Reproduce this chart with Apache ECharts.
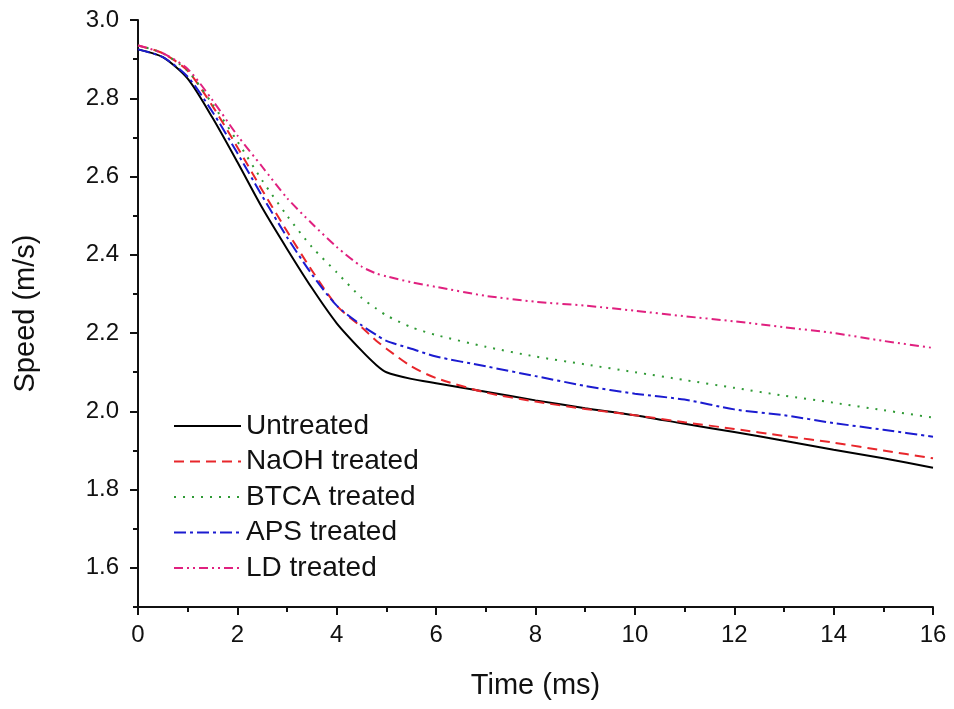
<!DOCTYPE html>
<html>
<head>
<meta charset="utf-8">
<script src="https://cdn.jsdelivr.net/npm/echarts@6/dist/echarts.min.js"></script>
<style>html,body{margin:0;padding:0;background:#fff}#c{width:954px;height:709px}</style>
</head>
<body>
<div id="c"></div>
<script>
const time = [0,0.5,1,1.5,2,2.5,3,3.5,4,4.5,4.8,5,5.5,6,7,8,9,10,11,12,13,14,15,16];
const untreated = [2.925,2.905,2.85,2.75,2.637,2.52,2.415,2.315,2.225,2.155,2.118,2.10,2.083,2.072,2.05,2.028,2.008,1.99,1.968,1.947,1.925,1.902,1.88,1.856];
const naoh = [2.935,2.915,2.87,2.78,2.675,2.565,2.46,2.36,2.27,2.215,2.18,2.16,2.115,2.085,2.048,2.025,2.006,1.99,1.972,1.955,1.937,1.92,1.9,1.88];
const btca = [2.935,2.915,2.87,2.785,2.69,2.59,2.50,2.42,2.355,2.29,2.262,2.245,2.215,2.195,2.165,2.14,2.12,2.10,2.08,2.06,2.04,2.022,2.003,1.984];
const aps = [2.925,2.905,2.855,2.765,2.66,2.55,2.445,2.35,2.27,2.22,2.195,2.18,2.16,2.14,2.115,2.09,2.065,2.045,2.03,2.005,1.99,1.97,1.953,1.935];
const ld = [2.935,2.915,2.875,2.795,2.705,2.625,2.545,2.48,2.42,2.37,2.352,2.345,2.33,2.318,2.295,2.28,2.27,2.257,2.243,2.23,2.215,2.2,2.18,2.162];
const seriesNames = ['Untreated','NaOH treated','BTCA treated','APS treated','LD treated'];
const yTicks = [1.6,1.8,2.0,2.2,2.4,2.6,2.8,3.0];

const pair = arr => arr.map((v,i)=>[time[i],v]);
const styles = [
  {color:'#000000', type:'solid'},
  {color:'#e8262b', type:[10,6]},
  {color:'#2f9a35', type:[2,7]},
  {color:'#1b1bd0', type:[12,4,3,4]},
  {color:'#e0207f', type:[9,4,2,4,2,4]}
];
const allData = [untreated,naoh,btca,aps,ld];
const FONT = 'Liberation Sans, Arial, sans-serif';

const chart = echarts.init(document.getElementById('c'), null, {renderer:'canvas'});
chart.setOption({
  animation:false,
  backgroundColor:'#fff',
  grid:{left:138,right:21,top:20,bottom:102,containLabel:false},
  legend:{
    orient:'vertical', left:168, top:407, itemWidth:67, itemHeight:28, itemGap:7.5,
    textStyle:{fontSize:28,color:'#111',fontFamily:FONT},
    itemStyle:{opacity:0},
    lineStyle:{width:2},
    data:seriesNames
  },
  xAxis:{
    type:'value', min:0, max:16, interval:2,
    name:'Time (ms)', nameLocation:'middle', nameGap:64,
    nameTextStyle:{fontSize:29,color:'#111',fontFamily:FONT},
    axisLine:{show:true,lineStyle:{color:'#111',width:2}},
    axisTick:{show:true,inside:false,length:8,lineStyle:{color:'#111',width:2}},
    minorTick:{show:true,splitNumber:2,length:5,lineStyle:{color:'#111',width:2}},
    axisLabel:{fontSize:24,color:'#111',fontFamily:FONT,margin:16},
    splitLine:{show:false}
  },
  yAxis:[{
    type:'value', min:1.5, max:3.0, position:'left',
    name:'Speed (m/s)', nameLocation:'middle', nameGap:98, nameRotate:90,
    nameTextStyle:{fontSize:29,color:'#111',fontFamily:FONT},
    axisLine:{show:true,onZero:false,lineStyle:{color:'#111',width:2}},
    axisTick:{show:true,length:8,customValues:yTicks,lineStyle:{color:'#111',width:2}},
    axisLabel:{fontSize:24,color:'#111',fontFamily:FONT,margin:19,customValues:yTicks,
      formatter:v=>v.toFixed(1)},
    splitLine:{show:false}
  },{
    type:'value', min:1.5, max:3.0, interval:0.1, position:'left', offset:0,
    axisLine:{show:false}, axisLabel:{show:false}, splitLine:{show:false},
    axisTick:{show:true,length:5,lineStyle:{color:'#111',width:2}}
  }],
  series: seriesNames.map((n,i)=>({
    name:n, type:'line', data:pair(allData[i]), showSymbol:false, symbol:'none',
    smooth:0.25, yAxisIndex:0,
    lineStyle:{color:styles[i].color,type:styles[i].type,width:2},
    itemStyle:{color:styles[i].color}
  }))
});
</script>
</body>
</html>
